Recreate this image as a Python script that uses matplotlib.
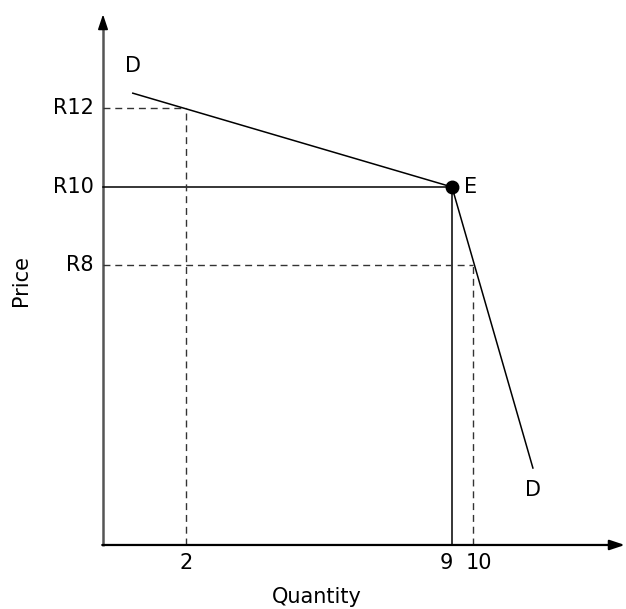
import matplotlib
matplotlib.use("Agg")
import matplotlib.pyplot as plt

# Data (schematic kinked demand curve)
demand_q = [0.6, 9.0, 11.13]
demand_p = [12.39, 10.0, 2.84]
eq_q, eq_p = 9.0, 10.0
dash_q = [2.0, 9.55]      # quantity positions for dashed guides
dash_p = [12.0, 8.0]      # price levels for dashed guides
price_ticks = [12.0, 10.0, 8.0]
price_labels = ["R12", "R10", "R8"]
qty_ticks = [2.0, 9.0, 9.55]
qty_labels = ["2", "9", "10"]

q0, p0 = -0.184, 0.879     # axis origin
q_end, p_end = 13.55, 14.4

fig = plt.figure(figsize=(6.26, 6.09), dpi=100)
ax = fig.add_axes([0, 0, 1, 1])
ax.set_xlim(-2.895, 13.58)
ax.set_ylim(-0.752, 14.764)
ax.axis("off")

fs = 15
# axes arrows
ax.plot([q0, q0], [p0 - 0.02, p_end - 0.3], color="#555555", lw=1.8, solid_capstyle="butt")
ax.annotate("", xy=(q0, p_end), xytext=(q0, p_end - 0.35), annotation_clip=False,
            arrowprops=dict(arrowstyle="-|>,head_length=0.9,head_width=0.3", color="black", lw=1.2, shrinkA=0, shrinkB=0))
ax.annotate("", xy=(q_end, p0), xytext=(q0 - 0.02, p0), annotation_clip=False,
            arrowprops=dict(arrowstyle="-|>,head_length=0.9,head_width=0.3", color="black", lw=1.6, shrinkA=0, shrinkB=0))

# solid guides to equilibrium
ax.plot([q0, eq_q], [eq_p, eq_p], color="black", lw=1.1)
ax.plot([eq_q, eq_q], [p0, eq_p], color="black", lw=1.1)

# dashed guides
for q, p in zip(dash_q, dash_p):
    ax.plot([q0, q], [p, p], color="#333333", lw=1.0, ls=(0, (5, 3.5)))
    ax.plot([q, q], [p0, p], color="#333333", lw=1.0, ls=(0, (5, 3.5)))

# demand curve
ax.plot(demand_q, demand_p, color="black", lw=1.1)
ax.plot([eq_q], [eq_p], "o", color="black", markersize=9)

# labels
ax.text(demand_q[0], demand_p[0] + 0.45, "D", fontsize=fs, ha="center", va="bottom")
ax.text(demand_q[-1], demand_p[-1] - 0.3, "D", fontsize=fs, ha="center", va="top")
ax.text(eq_q + 0.5, eq_p, "E", fontsize=fs, ha="center", va="center")

for p, lab in zip(price_ticks, price_labels):
    ax.text(q0 - 0.25, p, lab, fontsize=fs, ha="right", va="center")
qty_offsets = [0.0, -0.15, 0.15]
for q, lab, off in zip(qty_ticks, qty_labels, qty_offsets):
    ax.text(q + off, p0 - 0.2, lab, fontsize=fs, ha="center", va="top")

ax.text(5.45, -0.45, "Quantity", fontsize=fs, ha="center", va="center")
ax.text(-2.35, 7.63, "Price", fontsize=fs, ha="center", va="center", rotation=90)

fig.savefig("out.png", dpi=100)
